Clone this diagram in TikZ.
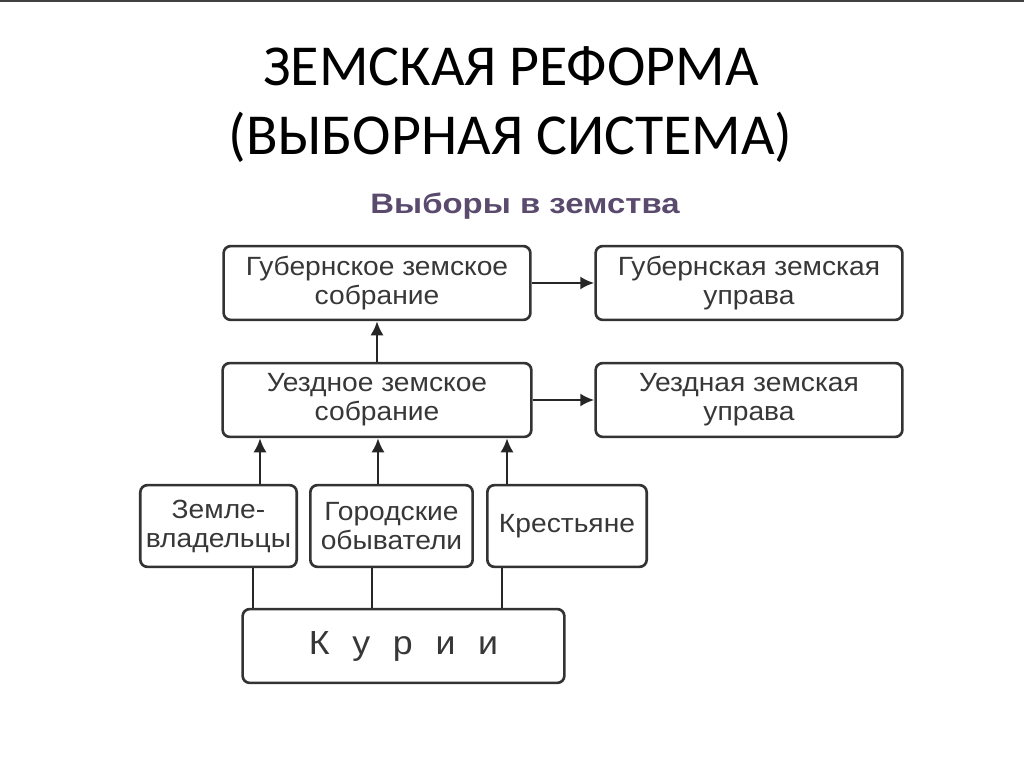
\documentclass[tikz,border=0pt]{standalone}
\usepackage{fontspec}
\setmainfont{Liberation Sans}[FakeStretch=1.07]
\newfontfamily\headfont{Carlito}
\newfontfamily\subheadfont{Liberation Sans}[FakeStretch=1.17]
\usetikzlibrary{arrows.meta}
\definecolor{subhead}{RGB}{90,74,110}
\definecolor{boxtext}{RGB}{55,55,55}
\begin{document}
\begin{tikzpicture}[x=0.02cm,y=0.02cm,
  box/.style={draw=black!80,line width=1.5pt,rounded corners=4pt,align=center,
    text=boxtext,font=\fontsize{15}{16.5}\selectfont,inner sep=0pt},
  arr/.style={line width=1.5pt,draw=black!85,-{Latex[length=8pt,width=7.5pt]}},
  lnk/.style={line width=1.5pt,draw=black!85}]
\useasboundingbox (0,0) rectangle (1024,767);
\draw[line width=1.2pt,black!75] (0,766.5) -- (1024,766.5);
\node[anchor=base,font=\headfont\fontsize{33}{40}\selectfont] (t1) at (511,681) {ЗЕМСКАЯ РЕФОРМА};
\node[anchor=base,font=\headfont\fontsize{33}{40}\selectfont] (t2) at (510.5,612) {(ВЫБОРНАЯ СИСТЕМА)};
\node[anchor=base,text=subhead,font=\subheadfont\bfseries\fontsize{16}{18}\selectfont] (sub) at (525,553) {Выборы в земства};
\node[box,minimum width=174.6pt,minimum height=42pt] (gs) at (377,484) {Губернское земское\\собрание};
\node[box,minimum width=174.6pt,minimum height=42pt] (gu) at (749,484) {Губернская земская\\управа};
\node[box,minimum width=175.7pt,minimum height=42pt] (us) at (377,367) {Уездное земское\\собрание};
\node[box,minimum width=174.6pt,minimum height=42pt] (uu) at (749,367) {Уездная земская\\управа};
\node[box,minimum width=89pt,minimum height=46.5pt] (zem) at (218.5,241) {Земле-\\владельцы};
\node[box,minimum width=92.4pt,minimum height=46.5pt] (gor) at (391.5,241) {Городские\\обыватели};
\node[box,minimum width=90.7pt,minimum height=46.5pt] (kre) at (567,241) {Крестьяне};
\node[box,minimum width=183.1pt,minimum height=42pt,font=\fontsize{19}{22}\selectfont] (kur) at (403.5,121) {К\hspace{0.68em}у\hspace{0.68em}р\hspace{0.68em}и\hspace{0.68em}и};
\coordinate (a1) at (260,0);
\coordinate (a2) at (378,0);
\coordinate (a3) at (507,0);
\coordinate (b1) at (253,0);
\coordinate (b2) at (372,0);
\coordinate (b3) at (502,0);
\draw[arr] (gs) -- (gu);
\draw[arr] (us) -- (uu);
\draw[arr] (us) -- (gs);
\draw[arr] (zem.north -| a1) -- (us.south -| a1);
\draw[arr] (gor.north -| a2) -- (us.south -| a2);
\draw[arr] (kre.north -| a3) -- (us.south -| a3);
\draw[lnk] (kur.north -| b1) -- (zem.south -| b1);
\draw[lnk] (kur.north -| b2) -- (gor.south -| b2);
\draw[lnk] (kur.north -| b3) -- (kre.south -| b3);
\end{tikzpicture}
\end{document}
